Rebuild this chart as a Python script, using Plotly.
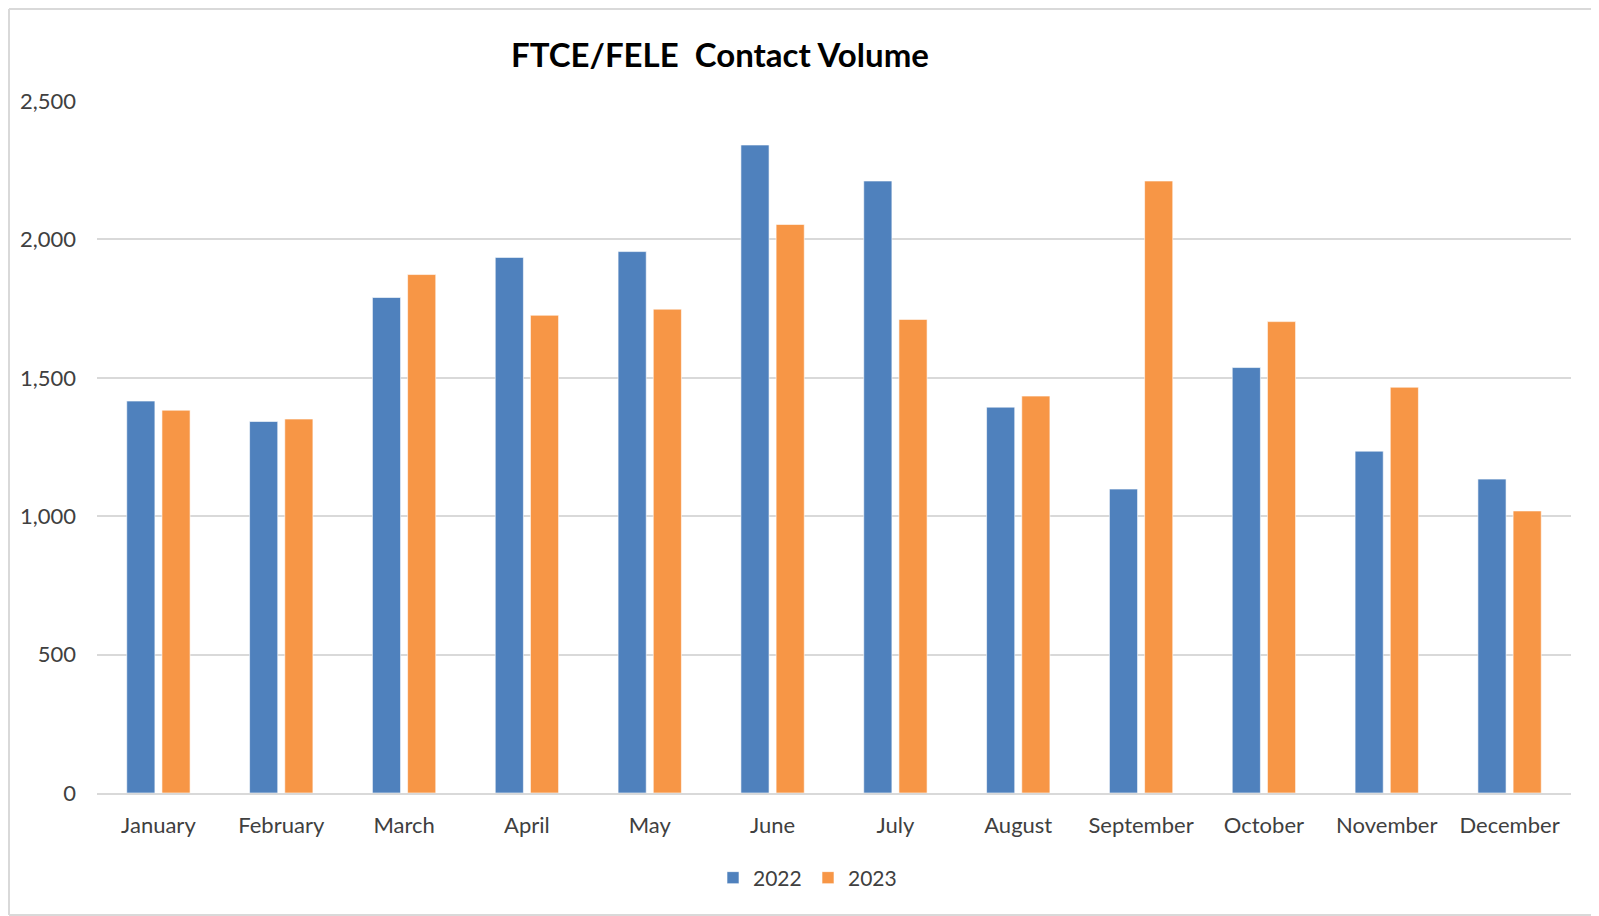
import plotly.graph_objects as go

months = ["January", "February", "March", "April", "May", "June", "July",
          "August", "September", "October", "November", "December"]
vals_2022 = [1416, 1342, 1790, 1935, 1956, 2341, 2211, 1394, 1098, 1537, 1235, 1134]
vals_2023 = [1383, 1351, 1873, 1726, 1748, 2054, 1711, 1434, 2211, 1703, 1466, 1019]
series_names = ["2022", "2023"]
y_ticks = [0, 500, 1000, 1500, 2000, 2500]
y_tick_labels = ["0", "500", "1,000", "1,500", "2,000", "2,500"]

# page body has an 8px margin, so the figure is sized to fit the window
W, H = 1591, 908
ml, mr, mt, mb = 89, 28, 93, 123
pw, ph = W - ml - mr, H - mt - mb

FONT = "Lato, Carlito, Calibri, sans-serif"
TXT = "#404040"

fig = go.Figure()
fig.add_trace(go.Bar(x=months, y=vals_2022, name=series_names[0],
                     marker=dict(color="#4F81BD", line=dict(color="#FFFFFF", width=0.6))))
fig.add_trace(go.Bar(x=months, y=vals_2023, name=series_names[1],
                     marker=dict(color="#F79646", line=dict(color="#FFFFFF", width=0.6))))

# outer chart border (left, top, bottom), kept inside the figure
xl, xr = (1 - ml) / pw, (W - ml) / pw
yb, yt = (H - mb - (H - 1)) / ph, (H - mb - 1) / ph
border = dict(color="#D9D9D9", width=2)
for x0, y0, x1, y1 in [(xl, yb, xl, yt), (xl, yt, xr, yt), (xl, yb, xr, yb)]:
    fig.add_shape(type="line", xref="paper", yref="paper", x0=x0, y0=y0, x1=x1, y1=y1,
                  line=border, layer="below")

fig.update_layout(
    width=W, height=H,
    margin=dict(l=ml, r=mr, t=mt, b=mb),
    paper_bgcolor="white", plot_bgcolor="white",
    barmode="group", bargap=0.427, bargroupgap=0.2,
    title=dict(text="<b>FTCE/FELE  Contact Volume</b>", x=712 / W, xanchor="center",
               y=1 - 47 / H, yanchor="middle",
               font=dict(family=FONT, size=33, color="#000000")),
    font=dict(family=FONT, size=22, color=TXT),
    legend=dict(orientation="h", x=(800 - ml) / pw, xanchor="center",
                y=(H - mb - 870) / ph, yanchor="middle",
                font=dict(size=21, color=TXT), entrywidth=50,
                itemwidth=30, traceorder="normal", bgcolor="rgba(0,0,0,0)"),
    showlegend=True,
)
fig.update_yaxes(range=[0, 2500], tickvals=y_ticks, ticktext=y_tick_labels,
                 showgrid=True, gridcolor="#D9D9D9", gridwidth=2,
                 zeroline=False, showline=False, ticks="", ticklabelstandoff=20,
                 tickfont=dict(size=22, color=TXT))
fig.update_xaxes(showgrid=False, showline=True, linecolor="#D9D9D9", linewidth=2,
                 ticks="", ticklabelstandoff=12, tickfont=dict(size=22, color=TXT))

fig.write_html("out.html")
